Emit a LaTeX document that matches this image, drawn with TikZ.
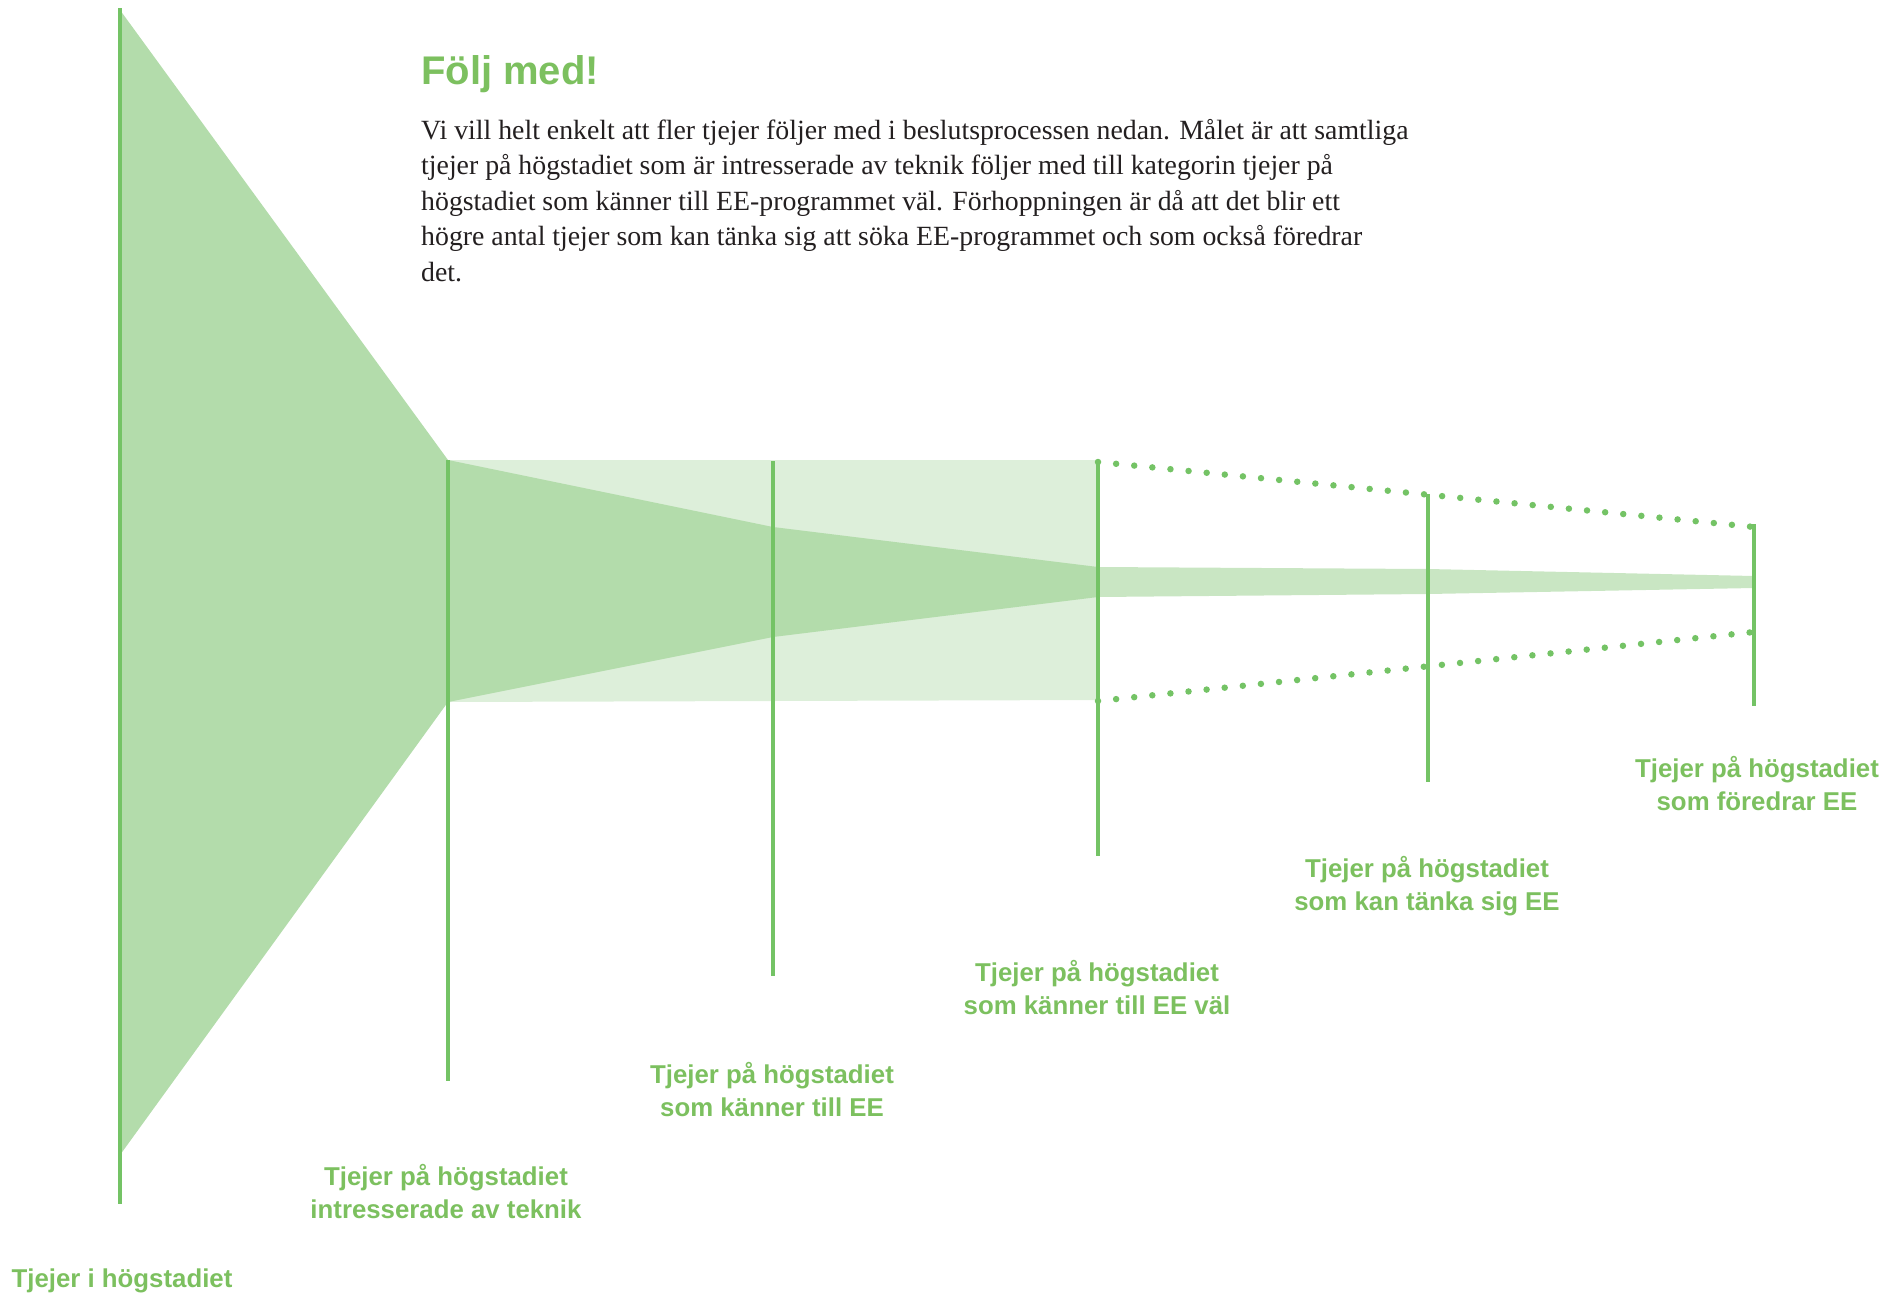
\documentclass[tikz,border=0pt]{standalone}
\usepackage{fontspec}
\setmainfont{Liberation Serif}
\newfontfamily\labfont{Liberation Sans}
\definecolor{lg}{HTML}{74C365}
\definecolor{fillA}{HTML}{B3DCAB}
\definecolor{fillB}{HTML}{DDEFDA}
\definecolor{fillC}{HTML}{C9E6C3}
\definecolor{txt}{HTML}{231F20}
\definecolor{ttl}{HTML}{7CC05F}
\begin{document}
\begin{tikzpicture}[x=1pt,y=-1pt,
  stage/.style={draw=lg,line width=4.5pt},
  dotline/.style={draw=lg,line width=6.5pt,line cap=round,dash pattern=on 0pt off 18.2pt},
  lab/.style={align=center,text=ttl,font=\labfont\bfseries\fontsize{25.8}{33}\selectfont,inner sep=0pt},
  body/.style={anchor=base west,text=txt,font=\fontsize{27.8}{35.5}\selectfont,inner sep=0pt}]
\useasboundingbox (0,0) rectangle (1901,1293);
% fills
\fill[fillB] (448,460) -- (1098,460) -- (1098,700) -- (448,702) -- cycle;
\fill[fillC] (1098,567) -- (1428,569) -- (1754,576) -- (1754,588) -- (1428,594) -- (1098,597) -- cycle;
\fill[fillA] (120,10) -- (448,460) -- (773,527) -- (1098,567) -- (1098,597) -- (773,637) -- (448,702) -- (120,1155) -- cycle;
% stage coordinates
\coordinate (t1) at (120,8);    \coordinate (b1) at (120,1204);
\coordinate (t2) at (448,460);  \coordinate (b2) at (448,1081);
\coordinate (t3) at (773,461);  \coordinate (b3) at (773,976);
\coordinate (t4) at (1098,461); \coordinate (b4) at (1098,856);
\coordinate (t5) at (1428,494); \coordinate (b5) at (1428,782);
\coordinate (t6) at (1754,524); \coordinate (b6) at (1754,706);
\coordinate (u4) at (1098,462); \coordinate (u6) at (1754,527);
\coordinate (d4) at (1098,701); \coordinate (d6) at (1754,632);
% dotted guides
\draw[dotline] (u4) -- (u6);
\draw[dotline] (d4) -- (d6);
% stage lines
\draw[stage] (t1) -- (b1);
\draw[stage] (t2) -- (b2);
\draw[stage] (t3) -- (b3);
\draw[stage] (t4) -- (b4);
\draw[stage] (t5) -- (b5);
\draw[stage] (t6) -- (b6);
% title and body
\node[anchor=base west,text=ttl,font=\labfont\bfseries\fontsize{40}{48}\selectfont,inner sep=0pt] (title) at (421,84) {Följ med!};
\node[body] (body1) at (421,139) {Vi vill helt enkelt att fler tjejer följer med i beslutsprocessen nedan. Målet är att samtliga};
\node[body] (body2) at (421,174.5) {tjejer på högstadiet som är intresserade av teknik följer med till kategorin tjejer på};
\node[body] (body3) at (421,210) {högstadiet som känner till EE-programmet väl. Förhoppningen är då att det blir ett};
\node[body] (body4) at (421,245.5) {högre antal tjejer som kan tänka sig att söka EE-programmet och som också föredrar};
\node[body] (body5) at (421,281) {det.};
% labels
\node[lab] (l1) at (122,1280.5) {Tjejer i högstadiet};
\node[lab] (l2) at (446,1191) {Tjejer på högstadiet\\intresserade av teknik};
\node[lab] (l3) at (772,1089.5) {Tjejer på högstadiet\\som känner till EE};
\node[lab] (l4) at (1097,987.5) {Tjejer på högstadiet\\som känner till EE väl};
\node[lab] (l5) at (1427,886) {Tjejer på högstadiet\\som kan tänka sig EE};
\node[lab] (l6) at (1757,783.5) {Tjejer på högstadiet\\som föredrar EE};
\end{tikzpicture}
\end{document}
